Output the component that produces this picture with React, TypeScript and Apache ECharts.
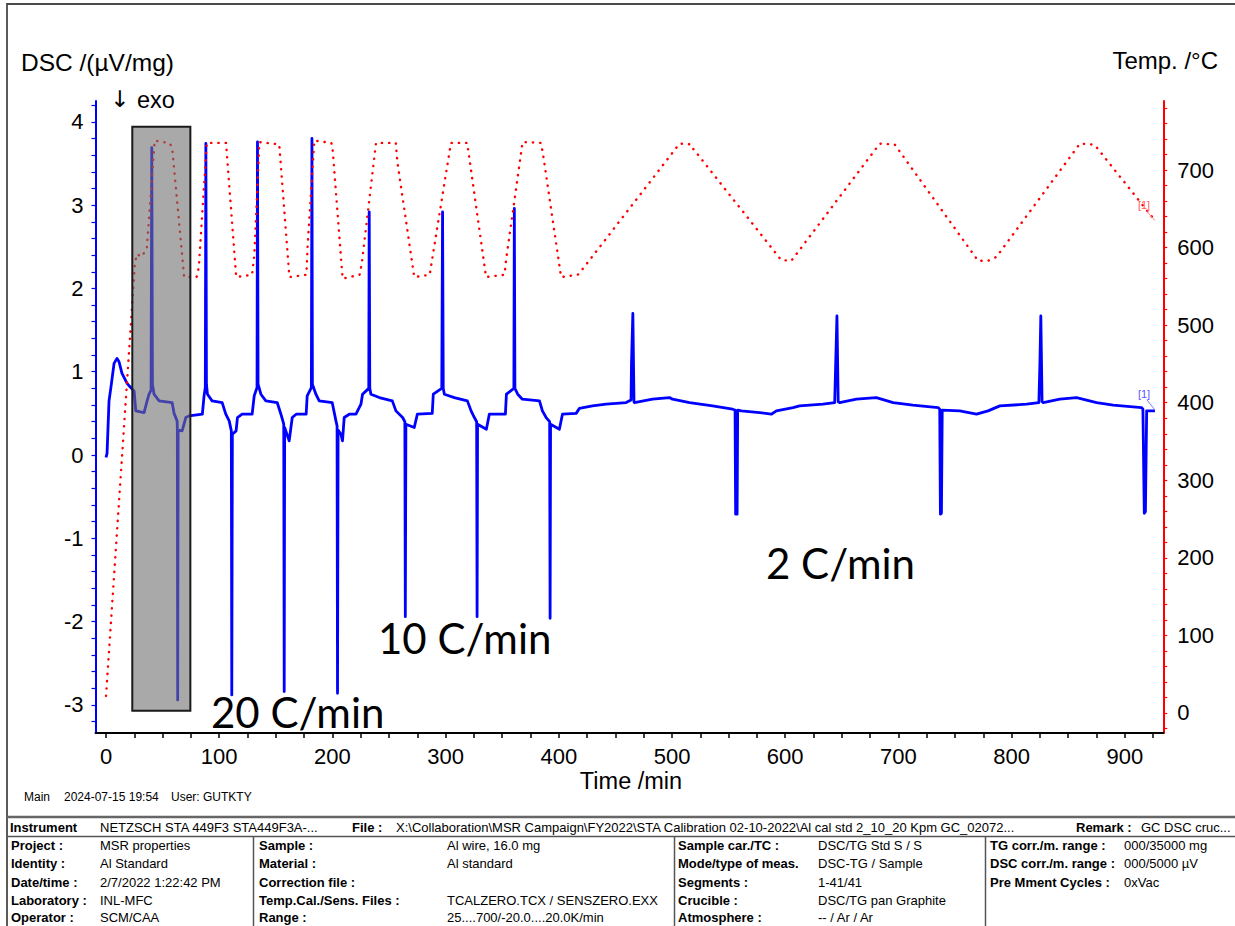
import { useEffect, useRef } from "react";
import * as echarts from "echarts";

// DSC signal, [time /min, DSC /(µV/mg)]
const dscSeries: [number, number][] = [
  [0, -0.03], [0.9, 0.02], [2.65, 0.65], [4.2, 0.8], [7.1, 1.1], [9.7, 1.16], [11.5, 1.12], [14.1, 0.98],
  [18.6, 0.86], [21.8, 0.81], [24.8, 0.77], [26.3, 0.53], [33.6, 0.51], [36.3, 0.65], [38.0, 0.73], [39.8, 0.78],
  [40.4, 3.69], [41.0, 0.85], [42.4, 0.73], [46.9, 0.65], [58.4, 0.63], [60.1, 0.5], [62.8, 0.41], [63.0, 0.32],
  [63.3, -2.94], [63.7, 0.3], [67.2, 0.29], [70.5, 0.45], [73.4, 0.47], [85.1, 0.49],
  [86.6, 0.71], [87.7, 0.81], [88.2, 3.74], [88.7, 0.85], [89.6, 0.73], [93.7, 0.65], [102.6, 0.63], [105.8, 0.49],
  [108.8, 0.41], [110.7, 0.29], [111.1, -2.88], [111.6, 0.25], [114.9, 0.29], [116.1, 0.45], [120.2, 0.49], [129.1, 0.49],
  [130.9, 0.71], [133.4, 0.81], [133.8, 3.76], [134.3, 0.85], [136.8, 0.73], [141.2, 0.65], [151.2, 0.63], [154.5, 0.49],
  [157.0, 0.37], [157.4, -2.84], [157.8, 0.33], [161.8, 0.17], [164.5, 0.45], [168.0, 0.49], [176.8, 0.49],
  [177.7, 0.71], [181.4, 0.81], [181.9, 3.8], [182.3, 0.85], [185.4, 0.73], [188.3, 0.65], [199.8, 0.63], [203.1, 0.41],
  [204.1, 0.35], [204.5, -2.86], [205.0, 0.3], [207.5, 0.25], [208.9, 0.17], [210.4, 0.45], [214.9, 0.49], [220.8, 0.49],
  [225.2, 0.61], [226.6, 0.73], [232.1, 0.8], [232.5, 2.92], [233.0, 0.8], [234.0, 0.73], [241.4, 0.69], [252.9, 0.65],
  [256.1, 0.53], [262.0, 0.45], [264.0, 0.4], [264.4, -1.94], [264.9, 0.37], [272.3, 0.33], [275.0, 0.49], [288.2, 0.5],
  [289.1, 0.73], [296.6, 0.8], [297.3, 2.92], [297.9, 0.8], [298.9, 0.73], [307.7, 0.69], [319.2, 0.65], [322.5, 0.53],
  [325.4, 0.45], [327.4, 0.4], [327.8, -1.94], [328.2, 0.37], [336.0, 0.31], [338.6, 0.49], [352.8, 0.49],
  [353.7, 0.73], [360.3, 0.8], [360.7, 2.96], [361.2, 0.8], [363.7, 0.73], [367.8, 0.67], [382.9, 0.65], [385.5, 0.53],
  [388.8, 0.45], [391.9, 0.4], [392.3, -1.96], [392.7, 0.37], [400.5, 0.31], [403.2, 0.49], [415.3, 0.5],
  [418.2, 0.56], [429.7, 0.59], [441.8, 0.61], [459.5, 0.63], [463.8, 0.66], [464.2, 1.1], [465.4, 1.7], [466.4, 0.64],
  [466.8, 0.63], [482.8, 0.67], [497.8, 0.69], [500.4, 0.67], [515.5, 0.63], [535.8, 0.59], [553.5, 0.55], [555.7, 0.54],
  [556.2, -0.71], [557.5, -0.71], [558.0, 0.54], [561.2, 0.53], [577.4, 0.51], [587.7, 0.49], [592.2, 0.53], [606.9, 0.57],
  [612.7, 0.59], [633.3, 0.61], [643.7, 0.63], [644.6, 1.1], [645.7, 1.67], [646.8, 0.64], [648.1, 0.63], [662.9, 0.67],
  [680.5, 0.69], [695.3, 0.63], [712.8, 0.6], [735.0, 0.57], [736.5, 0.55], [737.1, -0.71], [738.0, -0.7], [738.7, 0.54],
  [754.2, 0.53], [769.0, 0.49], [779.2, 0.53], [789.6, 0.59], [813.2, 0.61], [824.1, 0.63], [825.0, 1.1], [825.8, 1.67],
  [826.9, 0.64], [827.9, 0.63], [842.6, 0.67], [857.4, 0.69], [875.1, 0.63], [889.7, 0.6], [914.9, 0.57], [916.0, 0.55],
  [917.2, -0.7], [918.2, -0.68], [919.3, 0.53], [926.6, 0.53],
];

// Furnace temperature, [time /min, Temp. /°C]
const tempSeries: [number, number][] = [
  [0, 22], [25.6, 581], [27.5, 592], [31, 588], [36, 598], [43, 738], [50, 736], [56, 735], [58.4, 729], [69, 562],
  [80, 562], [82, 575], [89, 735], [106, 735], [115, 562], [129, 565], [131, 590], [135.5, 736], [153, 733], [162, 562],
  [177, 565], [178, 600], [184, 738], [199, 735], [200, 730], [209, 560], [224, 565], [226, 580], [238.5, 735], [256, 735],
  [257.4, 710], [272.3, 562], [286, 565], [288, 584], [304.7, 735], [319, 735], [321, 715], [335.7, 562], [352, 565],
  [353.4, 584], [368, 736], [384, 735], [385.8, 723], [402, 562], [416.7, 565], [418.2, 567], [506.6, 734], [517, 733],
  [518.4, 728], [596.5, 584], [605.4, 583], [683.5, 734], [696.7, 733], [770.4, 583], [779.2, 583], [786.6, 588],
  [860.3, 734], [870.6, 733], [873.6, 732], [926.6, 635],
];

const timeLabels = [0, 100, 200, 300, 400, 500, 600, 700, 800, 900];
const dscLabels = [-3, -2, -1, 0, 1, 2, 3, 4];
const tempLabels = [0, 100, 200, 300, 400, 500, 600, 700];

// Rate annotations
const rateNotes = [
  { text: "20 C/min", x: 211, y: 712 },
  { text: "10 C/min", x: 378, y: 638 },
  { text: "2 C/min", x: 766, y: 563 },
];

// Highlighted first cycle, in axis units
const highlightSpan = { t0: 23.2, t1: 74.5, dscTop: 3.94, dscBottom: -3.07 };

// Measurement record
const instrumentRow = {
  instrument: "NETZSCH STA 449F3 STA449F3A-...",
  file: "X:\\Collaboration\\MSR Campaign\\FY2022\\STA Calibration 02-10-2022\\Al cal std 2_10_20 Kpm GC_02072...",
  remark: "GC DSC cruc...",
};
const col1Labels = ["Project :", "Identity :", "Date/time :", "Laboratory :", "Operator :"];
const col1Values = ["MSR properties", "Al Standard", "2/7/2022 1:22:42 PM", "INL-MFC", "SCM/CAA"];
const col2Labels = ["Sample :", "Material :", "Correction file :", "Temp.Cal./Sens. Files :", "Range :"];
const col2Values = ["Al wire, 16.0 mg", "Al standard", "", "TCALZERO.TCX / SENSZERO.EXX", "25....700/-20.0....20.0K/min"];
const col3Labels = ["Sample car./TC :", "Mode/type of meas.", "Segments :", "Crucible :", "Atmosphere :"];
const col3Values = ["DSC/TG Std S / S", "DSC-TG / Sample", "1-41/41", "DSC/TG pan Graphite", "-- / Ar / Ar"];
const col4Labels = ["TG corr./m. range :", "DSC corr./m. range :", "Pre Mment Cycles :"];
const col4Values = ["000/35000 mg", "000/5000 µV", "0xVac"];

const FONT = '"Liberation Sans", Arial, sans-serif';

function steps(from: number, to: number, step: number): number[] {
  const out: number[] = [];
  const n = Math.round((to - from) / step);
  for (let i = 0; i <= n; i++) out.push(Math.round((from + i * step) * 1000) / 1000);
  return out;
}

function txt(text: string, x: number, y: number, size: number, opts: any = {}) {
  return {
    type: "text",
    x,
    y,
    z: opts.z ?? 60,
    silent: true,
    style: {
      text,
      fill: opts.fill ?? "#000",
      fontSize: size,
      fontFamily: opts.family ?? FONT,
      fontWeight: opts.bold ? "bold" : "normal",
      align: opts.align ?? "left",
      verticalAlign: "middle",
    },
  };
}

function seg(x1: number, y1: number, x2: number, y2: number, color: string, w: number) {
  return {
    type: "line",
    z: 55,
    silent: true,
    shape: { x1, y1, x2, y2 },
    style: { stroke: color, lineWidth: w },
  };
}

function footerGraphics(): any[] {
  const g: any[] = [];
  const rowY = [845, 863.5, 882, 900, 917.5];
  const fs = 13;
  g.push(seg(7, 817, 1235, 817, "#666", 2.5));
  g.push(seg(7, 836.5, 1235, 836.5, "#555", 1.5));
  g.push(seg(253.5, 836.5, 253.5, 930, "#555", 1.5));
  g.push(seg(674.5, 836.5, 674.5, 930, "#555", 1.5));
  g.push(seg(985.5, 836.5, 985.5, 930, "#555", 1.5));

  g.push(txt("Main", 24, 797, 12));
  g.push(txt("2024-07-15 19:54", 64, 797, 12));
  g.push(txt("User: GUTKTY", 171, 797, 12));

  g.push(txt("Instrument", 10, 827, fs, { bold: true }));
  g.push(txt(instrumentRow.instrument, 100, 827, fs));
  g.push(txt("File :", 352, 827, fs, { bold: true }));
  g.push(txt(instrumentRow.file, 396, 827, fs));
  g.push(txt("Remark :", 1076, 827, fs, { bold: true }));
  g.push(txt(instrumentRow.remark, 1141, 827, fs));

  const cols = [
    { labels: col1Labels, values: col1Values, lx: 11, vx: 100 },
    { labels: col2Labels, values: col2Values, lx: 259, vx: 447 },
    { labels: col3Labels, values: col3Values, lx: 678, vx: 818 },
    { labels: col4Labels, values: col4Values, lx: 990, vx: 1124 },
  ];
  cols.forEach((c) => {
    c.labels.forEach((l, i) => {
      g.push(txt(l, c.lx, rowY[i], fs, { bold: true }));
      if (c.values[i]) g.push(txt(c.values[i], c.vx, rowY[i], fs));
    });
  });
  return g;
}

export default function App() {
  const ref = useRef<HTMLDivElement>(null);

  useEffect(() => {
    if (!ref.current) return;
    const chart = echarts.init(ref.current, null, { renderer: "svg" });

    const labelStyle = { color: "#000", fontSize: 22, fontFamily: FONT };

    chart.setOption({
      animation: false,
      backgroundColor: "#fff",
      grid: { left: 95.5, right: 71.7, top: 101, bottom: 193, containLabel: false, outerBoundsMode: "none" },
      xAxis: {
        type: "value",
        min: -9.3,
        max: 934,
        axisLine: { show: true, onZero: false, lineStyle: { color: "#000", width: 2 } },
        axisTick: { show: true, inside: false, length: 5, customValues: steps(0, 925, 25), lineStyle: { color: "#000", width: 1.5 } },
        axisLabel: { ...labelStyle, margin: 12, customValues: timeLabels },
        splitLine: { show: false },
      },
      yAxis: [
        {
          type: "value",
          position: "left",
          min: -3.337,
          max: 4.25,
          axisLine: { show: true, onZero: false, lineStyle: { color: "#0000ff", width: 2 } },
          axisTick: { show: true, inside: false, length: 4, customValues: steps(-3.2, 4.2, 0.2), lineStyle: { color: "#0000ff", width: 1.2 } },
          axisLabel: { ...labelStyle, margin: 12, customValues: dscLabels },
          splitLine: { show: false },
        },
        {
          type: "value",
          position: "right",
          min: -25.8,
          max: 789,
          axisLine: { show: true, onZero: false, lineStyle: { color: "#ff0000", width: 2 } },
          axisTick: { show: true, inside: false, length: 4, customValues: steps(-20, 780, 20), lineStyle: { color: "#ff0000", width: 1.2 } },
          axisLabel: { ...labelStyle, margin: 14, customValues: tempLabels },
          splitLine: { show: false },
        },
      ],
      series: [
        {
          name: "DSC",
          type: "line",
          data: dscSeries,
          yAxisIndex: 0,
          showSymbol: false,
          silent: true,
          z: 3,
          lineStyle: { color: "#0000ff", width: 2.8, join: "round" },
        },
        {
          name: "Temp.",
          type: "line",
          data: tempSeries,
          yAxisIndex: 1,
          showSymbol: false,
          silent: true,
          z: 4,
          lineStyle: { color: "#ff0000", width: 2.4, type: [0.3, 7], cap: "round" },
        },
      ],
    });

    const tl = chart.convertToPixel({ xAxisIndex: 0, yAxisIndex: 0 }, [highlightSpan.t0, highlightSpan.dscTop]) as number[];
    const br = chart.convertToPixel({ xAxisIndex: 0, yAxisIndex: 0 }, [highlightSpan.t1, highlightSpan.dscBottom]) as number[];
    const lastDsc = dscSeries[dscSeries.length - 1];
    const lastTemp = tempSeries[tempSeries.length - 1];
    const dEnd = chart.convertToPixel({ xAxisIndex: 0, yAxisIndex: 0 }, lastDsc) as number[];
    const tEnd = chart.convertToPixel({ xAxisIndex: 0, yAxisIndex: 1 }, lastTemp) as number[];

    const graphics: any[] = [
      // page frame
      {
        type: "rect",
        z: 1,
        silent: true,
        shape: { x: 7, y: 4, width: 1240, height: 940 },
        style: { fill: "none", stroke: "#4a4a4a", lineWidth: 1.8 },
      },
      // highlighted first cycle
      {
        type: "rect",
        z: 50,
        silent: true,
        shape: { x: tl[0], y: tl[1], width: br[0] - tl[0], height: br[1] - tl[1] },
        style: { fill: "rgba(112,112,112,0.6)", stroke: "#1a1a1a", lineWidth: 2 },
      },
      txt("DSC /(µV/mg)", 21, 62, 24.5),
      txt("Temp. /°C", 1218, 60, 24, { align: "right" }),
      txt("↓", 110, 99, 23, { family: '"DejaVu Sans", sans-serif' }),
      txt("exo", 137, 100, 23.5),
      txt("Time /min", 631, 781, 23.5, { align: "center" }),
      // curve end tags
      txt("[1]", dEnd[0] - 17, dEnd[1] - 17, 11, { fill: "#5a5aff" }),
      seg(dEnd[0] - 8, dEnd[1] - 11, dEnd[0], dEnd[1] - 1, "#7a7aff", 1),
      txt("[1]", tEnd[0] - 17, tEnd[1] - 15, 11, { fill: "#ff5a5a" }),
      seg(tEnd[0] - 8, tEnd[1] - 9, tEnd[0], tEnd[1], "#ff7a7a", 1),
      ...rateNotes.map((n) => txt(n.text, n.x, n.y, 42, { family: "Lato, sans-serif", z: 70 })),
      ...footerGraphics(),
    ];

    chart.setOption({ graphic: graphics });

    return () => chart.dispose();
  }, []);

  return (
    <div
      ref={ref}
      style={{ position: "fixed", left: 0, top: 0, width: 1235, height: 926, background: "#fff" }}
    />
  );
}
